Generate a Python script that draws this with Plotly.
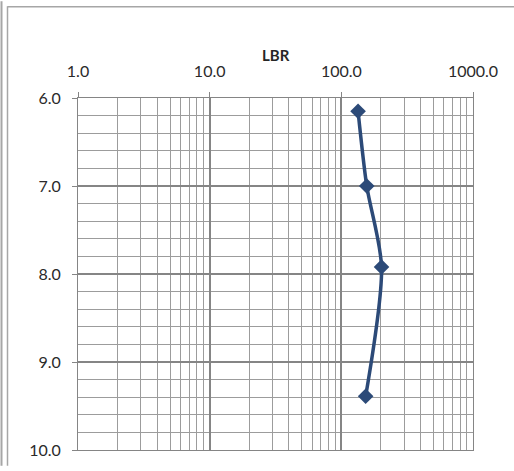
import plotly.graph_objects as go

# LBR profile versus depth
lbr = [134, 156, 202, 153]
depth = [6.15, 7.0, 7.92, 9.39]

x_ticks = [1, 10, 100, 1000]
x_labels = ["1.0", "10.0", "100.0", "1000.0"]
y_ticks = [6, 7, 8, 9, 10]
y_labels = ["6.0", "7.0", "8.0", "9.0", "10.0"]
x_minor = [m * d for d in (1, 10, 100) for m in range(2, 10)]

W, H = 514, 471
L, R, T, B = 78, 41, 98, 16
pw, ph = W - L - R, H - T - B


def px(x):
    return (x - L) / pw


def py(y):
    return (H - B - y) / ph


line_col = "#2c4a78"
grid_major = "#858585"
grid_minor = "#9c9c9c"
txt = "#2a2a2a"
font = dict(family="Lato, Open Sans, sans-serif", size=16, color=txt)

fig = go.Figure(
    go.Scatter(
        x=lbr,
        y=depth,
        mode="lines+markers",
        line=dict(color=line_col, width=3.5, shape="spline", smoothing=0.8),
        marker=dict(symbol="diamond", size=12, color=line_col),
        showlegend=False,
    )
)

fig.update_xaxes(
    type="log",
    range=[0, 3],
    side="top",
    tickvals=x_ticks,
    ticktext=x_labels,
    ticks="outside",
    ticklen=5,
    tickcolor=grid_major,
    tickfont=font,
    ticklabelstandoff=9,
    showgrid=True,
    gridcolor=grid_major,
    gridwidth=1.5,
    showline=True,
    linecolor=grid_major,
    linewidth=1,
    mirror=True,
    zeroline=False,
    minor=dict(tickvals=x_minor, showgrid=True, gridcolor=grid_minor, gridwidth=1, ticks=""),
)

fig.update_yaxes(
    range=[10, 6],
    tickvals=y_ticks,
    ticktext=y_labels,
    ticks="outside",
    ticklen=5,
    tickcolor=grid_major,
    tickfont=font,
    ticklabelstandoff=8,
    showgrid=True,
    gridcolor=grid_major,
    gridwidth=1.5,
    showline=True,
    linecolor=grid_major,
    linewidth=1,
    mirror=True,
    zeroline=False,
    minor=dict(dtick=0.2, showgrid=True, gridcolor=grid_minor, gridwidth=1, ticks=""),
)

border = "#a6a6a6"
fig.update_layout(
    width=W,
    height=H,
    margin=dict(l=L, r=R, t=T, b=B),
    paper_bgcolor="white",
    plot_bgcolor="white",
    annotations=[
        dict(
            text="<b>LBR</b>",
            x=0.5,
            y=py(54.5),
            xref="paper",
            yref="paper",
            showarrow=False,
            yanchor="middle",
            font=dict(family="Lato, Open Sans, sans-serif", size=15, color="#262626"),
        )
    ],
    shapes=[
        dict(type="line", xref="paper", yref="paper", x0=px(1.5), x1=px(1.5),
             y0=py(0), y1=py(H), line=dict(color=border, width=2)),
        dict(type="line", xref="paper", yref="paper", x0=px(7.5), x1=px(7.5),
             y0=py(5), y1=py(H), line=dict(color=border, width=1.5)),
        dict(type="line", xref="paper", yref="paper", x0=px(7.5), x1=px(W),
             y0=py(5.5), y1=py(5.5), line=dict(color=border, width=1.5)),
    ],
)

fig.write_html("out.html")
